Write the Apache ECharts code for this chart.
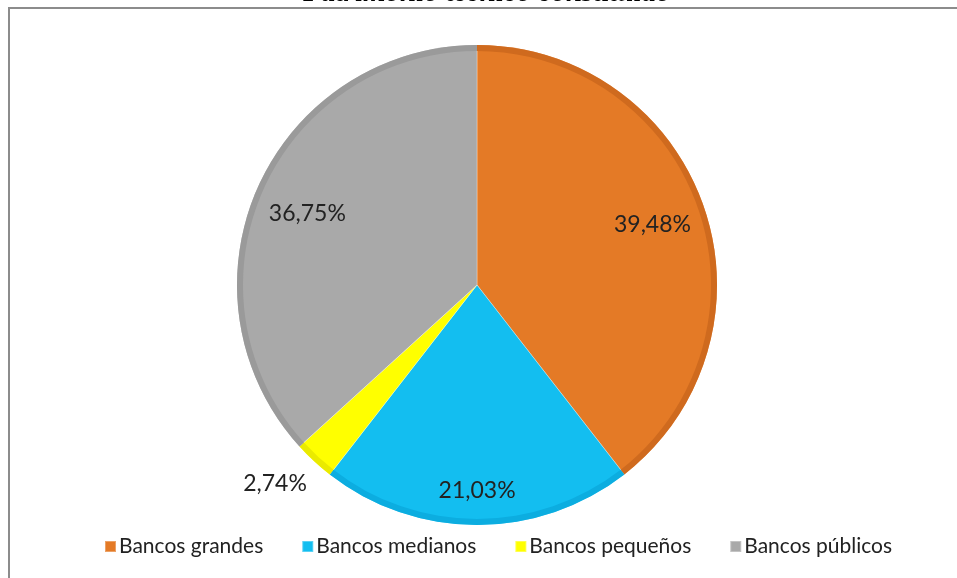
<!DOCTYPE html>
<html><head><meta charset="utf-8">
<script src="https://cdn.jsdelivr.net/npm/echarts@6/dist/echarts.min.js"></script>
<style>html,body{margin:0;padding:0;background:#fff}#c{width:957px;height:578px}</style>
</head><body><div id="c"></div>
<script>
const titleText = 'Patrimonio técnico constituido';
const categories = ['Bancos grandes', 'Bancos medianos', 'Bancos pequeños', 'Bancos públicos'];
const values = [39.48, 21.03, 2.74, 36.75];
const colors = ['#E47A26', '#13BEF0', '#FFFF00', '#A9A9A9'];
const darkColors = ['#CF6A1E', '#0CADE0', '#EAEA00', '#9A9A9A'];

const chart = echarts.init(document.getElementById('c'), null, {renderer: 'canvas'});
const fmt = v => v.toFixed(2).replace('.', ',') + '%';
const labelOffsets = [[0, 0], [0, 20], [-76, 62], [0, 4]];

const mainData = categories.map((n, i) => ({
  name: n, value: values[i],
  itemStyle: {color: colors[i]}
}));
const rimData = categories.map((n, i) => ({
  name: n, value: values[i],
  itemStyle: {color: darkColors[i]}
}));
const labelData = categories.map((n, i) => ({
  name: n, value: values[i],
  label: {offset: labelOffsets[i]}
}));

chart.setOption({
  animation: false,
  color: colors,
  graphic: [
    {type: 'rect', shape: {x: 9, y: 8, width: 1000, height: 1000}, style: {fill: 'none', stroke: '#8c8c8c', lineWidth: 2}, silent: true},
    {type: 'text', x: 487, y: -6, style: {text: titleText, fill: '#000', font: 'italic bold 29px "Liberation Serif"', textAlign: 'center', textVerticalAlign: 'middle'}, silent: true}
  ],
  legend: {
    bottom: 16, left: 99,
    itemWidth: 11, itemHeight: 11, itemGap: 38,
    icon: 'rect',
    textStyle: {fontFamily: 'Lato', fontSize: 21, color: '#222', padding: [0, 0, 0, -2]},
    data: categories
  },
  series: [
    {
      type: 'pie', center: [477, 285], radius: 240, startAngle: 90, clockwise: true,
      label: {show: false}, labelLine: {show: false},
      itemStyle: {borderColor: 'rgba(255,255,255,0.3)', borderWidth: 1},
      emphasis: {disabled: true}, legendHoverLink: false,
      data: mainData
    },
    {
      type: 'pie', center: [477, 285], radius: [234, 240], startAngle: 90, clockwise: true,
      label: {show: false}, labelLine: {show: false}, silent: true,
      emphasis: {disabled: true}, legendHoverLink: false,
      data: rimData
    },
    {
      type: 'pie', center: [477, 285], radius: [125, 240], startAngle: 90, clockwise: true,
      silent: true, legendHoverLink: false,
      itemStyle: {color: 'rgba(0,0,0,0)'},
      label: {show: true, position: 'inside', formatter: p => fmt(p.value), fontFamily: 'Lato', fontSize: 23, color: '#222'},
      labelLine: {show: false},
      emphasis: {disabled: true},
      data: labelData
    }
  ]
});
</script></body></html>
